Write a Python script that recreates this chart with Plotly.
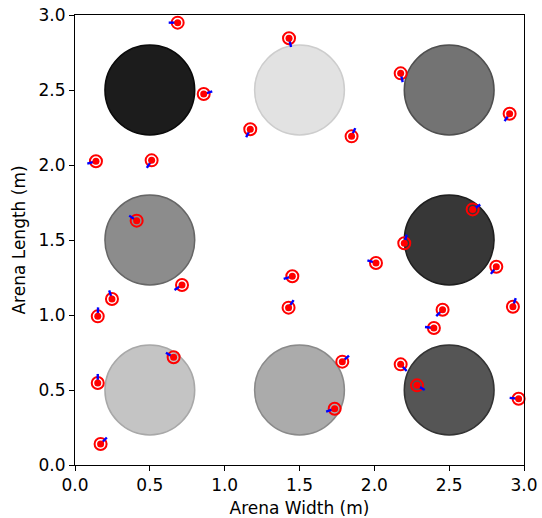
import math
import plotly.graph_objects as go

# Obstacles (arena circles)
obs_x = [0.5, 1.5, 2.5, 0.5, 2.5, 0.5, 1.5, 2.5]
obs_y = [2.5, 2.5, 2.5, 1.5, 1.5, 0.5, 0.5, 0.5]
obs_r = [0.3] * 8
obs_fill = ["#1c1c1c", "#e2e2e2", "#737373", "#8c8c8c", "#373737", "#c4c4c4", "#ababab", "#555555"]
obs_edge = ["#0a0a0a", "#cdcdcd", "#4f4f4f", "#666666", "#1e1e1e", "#a8a8a8", "#8a8a8a", "#333333"]

# Agents: position and heading (degrees)
agent_x = [0.686, 1.43, 2.176, 0.86, 2.904, 1.171, 1.848, 0.14, 0.512, 0.412,
           2.657, 2.20, 2.011, 1.452, 2.815, 0.715, 0.247, 0.152, 1.427, 2.456,
           2.926, 2.398, 0.659, 0.152, 1.786, 2.176, 2.285, 1.735, 2.964, 0.171]
agent_y = [2.949, 2.845, 2.611, 2.473, 2.342, 2.238, 2.191, 2.025, 2.031, 1.629,
           1.704, 1.478, 1.347, 1.258, 1.322, 1.200, 1.107, 0.991, 1.049, 1.035,
           1.055, 0.913, 0.718, 0.547, 0.689, 0.671, 0.531, 0.375, 0.442, 0.140]
agent_heading = [180, 283, 283, 18, 236, 243, 66, 195, 238, 146,
                 32, 74, 163, 196, 233, 213, 108, 88, 56, 225,
                 72, 173, 149, 90, 42, 312, 329, 198, 175, 46]
arrow_len = 0.06

xticks = [0.0, 0.5, 1.0, 1.5, 2.0, 2.5, 3.0]
yticks = [0.0, 0.5, 1.0, 1.5, 2.0, 2.5, 3.0]

fig = go.Figure()

shapes = []
for cx, cy, r, fc, ec in zip(obs_x, obs_y, obs_r, obs_fill, obs_edge):
    shapes.append(dict(type="circle", xref="x", yref="y",
                       x0=cx - r, y0=cy - r, x1=cx + r, y1=cy + r,
                       fillcolor=fc, line=dict(color=ec, width=1.5), layer="below"))

# outer rings
fig.add_trace(go.Scatter(x=agent_x, y=agent_y, mode="markers",
                         marker=dict(symbol="circle-open", size=12, color="red",
                                     line=dict(width=2, color="red")),
                         hoverinfo="skip", showlegend=False, cliponaxis=False))

# heading arrows
ax, ay = [], []
for x, y, h in zip(agent_x, agent_y, agent_heading):
    ax += [x, x + arrow_len * math.cos(math.radians(h)), None]
    ay += [y, y + arrow_len * math.sin(math.radians(h)), None]
fig.add_trace(go.Scatter(x=ax, y=ay, mode="lines",
                         line=dict(color="#0000ff", width=2.4),
                         hoverinfo="skip", showlegend=False, cliponaxis=False))

# inner dots
fig.add_trace(go.Scatter(x=agent_x, y=agent_y, mode="markers",
                         marker=dict(symbol="circle", size=7, color="red"),
                         hoverinfo="skip", showlegend=False, cliponaxis=False))

font = dict(family="DejaVu Sans", size=17, color="black")
axis_common = dict(range=[0, 3], showgrid=False, zeroline=False, showline=True,
                   mirror=True, linecolor="black", linewidth=1,
                   ticks="outside", ticklen=5, tickwidth=1, tickcolor="black",
                   tickfont=font, tickformat=".1f", automargin=False)

fig.update_layout(
    width=542, height=518,
    margin=dict(l=75, r=18, t=15, b=53),
    plot_bgcolor="white", paper_bgcolor="white",
    shapes=shapes,
    xaxis=dict(axis_common, tickvals=xticks,
               title=dict(text="Arena Width (m)", standoff=9, font=font)),
    yaxis=dict(axis_common, tickvals=yticks,
               title=dict(text="Arena Length (m)", standoff=8, font=font)),
)

fig.write_html("out.html", config={"displayModeBar": False},
               post_script="document.body.style.margin='0';document.body.style.overflow='hidden';")
